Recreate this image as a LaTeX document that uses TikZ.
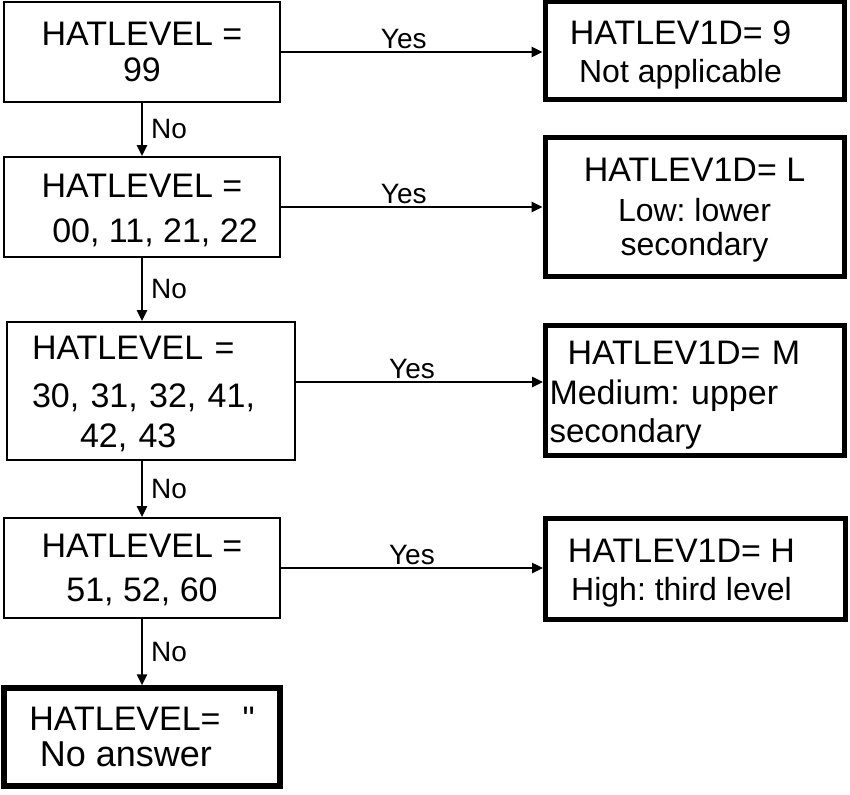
\documentclass[tikz,border=0pt]{standalone}
\usepackage{fontspec}
\setmainfont{Liberation Sans}[Ligatures=TeXOff]
\usetikzlibrary{arrows.meta}
\frenchspacing

\begin{document}
\begin{tikzpicture}[x=1pt,y=-1pt,
  testbox/.style={draw, line width=1.6pt, minimum width=276pt, minimum height=100pt, inner sep=0pt, align=center, font=\fontsize{34}{36}\selectfont},
  resultbox/.style={draw, line width=5pt, minimum width=299pt, minimum height=100pt, inner sep=0pt, align=center, font=\fontsize{34}{38}\selectfont},
  flow/.style={line width=2.4pt, -{Triangle[length=11pt,width=10pt]}},
  yeslbl/.style={above, font=\fontsize{28}{30}\selectfont, inner sep=2pt},
  nolbl/.style={right, font=\fontsize{28}{30}\selectfont, inner xsep=8pt}]
\useasboundingbox (0,0) rectangle (850,794);
% Left column: tests on HATLEVEL
\node[testbox] (q1) at (142,52) {HATLEVEL =\\99};
\node[testbox, font=\fontsize{34}{45}\selectfont] (q2) at (142,207) {\rule{0pt}{30pt}HATLEVEL =\\\hspace*{26pt}00, 11, 21, 22};
\node[testbox, minimum width=288pt, minimum height=138pt, text width=238pt, inner xsep=25pt, align=left, font=\fontsize{34}{40}\selectfont] (q3) at (151,391) {\rule{0pt}{30pt}HATLEVEL =\\[8pt]30, 31, 32, 41,\\\hspace*{48pt}42, 43};
\node[testbox, font=\fontsize{34}{44}\selectfont] (q4) at (142,568) {\rule{0pt}{28pt}HATLEVEL =\\51, 52, 60};
\node[testbox, line width=5.5pt, minimum height=98pt] (q5) at (142,737) {HATLEVEL=\hspace{22pt}"\\{\fontsize{36}{36}\selectfont No answer}\hspace*{32pt}};
% Right column: values of HATLEV1D
\node[resultbox, minimum height=98pt] (a1) at (694.5,51) {\rule{0pt}{32pt}HATLEV1D= 9\hspace*{28pt}\\{\fontsize{32}{32}\selectfont Not applicable}\hspace*{28pt}};
\node[resultbox, minimum height=138.5pt, font=\fontsize{34}{40}\selectfont] (a2) at (694.5,207) {\rule{0pt}{30pt}HATLEV1D= L\\{\fontsize{32}{32}\selectfont Low: lower}\\[-6pt]{\fontsize{32}{32}\selectfont secondary}};
\node[resultbox, minimum height=130pt, text width=291pt, inner xsep=4pt, align=left, font=\fontsize{34}{40}\selectfont] (a3) at (695,390.5) {\rule{0pt}{32pt}\hspace*{18pt}HATLEV1D= M\\{\fontsize{34}{34}\selectfont Medium: upper}\\[-2pt]{\fontsize{33}{33}\selectfont secondary}};
\node[resultbox, minimum width=300pt, minimum height=101pt] (a4) at (695.5,568.5) {\rule{0pt}{32pt}HATLEV1D= H\hspace*{28pt}\\{\fontsize{32}{32}\selectfont High: third level}\hspace*{28pt}};
% No branches
\draw[flow] (q1) -- (q2) node[nolbl, midway] {No};
\draw[flow] (q2.south) -- (q2.south |- q3.north) node[nolbl, midway] {No};
\draw[flow] (q4.north |- q3.south) -- (q4.north) node[nolbl, midway] {No};
\draw[flow] (q4) -- (q5) node[nolbl, midway] {No};
% Yes branches
\draw[flow] (q1.east) -- (q1.east -| a1.west) node[yeslbl, pos=0.47] {Yes};
\draw[flow] (q2.east) -- (q2.east -| a2.west) node[yeslbl, pos=0.47] {Yes};
\draw[flow] ([yshift=9pt]q3.east) -- ([yshift=9pt]q3.east -| a3.west) node[yeslbl, pos=0.47] {Yes};
\draw[flow] (q4.east) -- (q4.east -| a4.west) node[yeslbl, pos=0.5] {Yes};
\end{tikzpicture}
\end{document}
